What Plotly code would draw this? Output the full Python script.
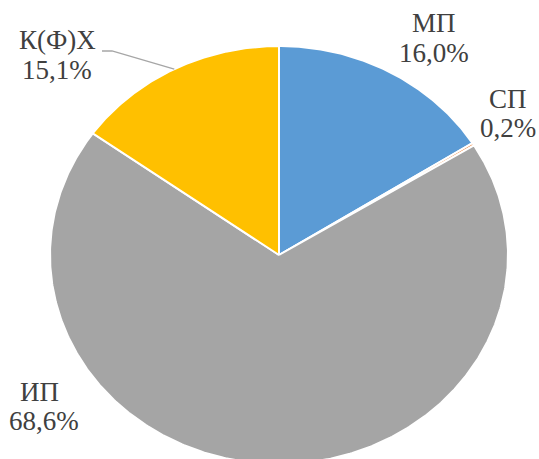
import math
import plotly.graph_objects as go

# ---- data ----
categories = ["МП", "СП", "ИП", "К(Ф)Х"]
values = [16.0, 0.2, 68.6, 15.1]
value_labels = ["16,0%", "0,2%", "68,6%", "15,1%"]
colors = ["#5B9BD5", "#ED7D31", "#A5A5A5", "#FFC000"]

# ---- layout constants ----
W, H = 539, 459
CX, CY, RX, RY = 279, 255, 229, 209
# (x, y of category line, x, y of percent line) in pixel coordinates
label_xy = {"МП": (434, 23, 434, 53), "СП": (508, 99, 508, 128),
            "ИП": (39, 392, 44, 421), "К(Ф)Х": (57, 40, 57, 70)}
leader_start = (102, 51)
leader_knee = (112, 51)
FONT = dict(family="'Times New Roman', 'Liberation Serif', 'DejaVu Serif', serif",
            size=27, color="#404040")

total = sum(values)


def pt(frac):
    a = 2 * math.pi * frac
    return CX + RX * math.sin(a), CY - RY * math.cos(a)


fig = go.Figure()
cum = 0.0
mids = {}
for cat, v, c in zip(categories, values, colors):
    f0, f1 = cum / total, (cum + v) / total
    n = max(2, int((f1 - f0) * 720))
    xs, ys = [CX], [CY]
    for i in range(n + 1):
        x, y = pt(f0 + (f1 - f0) * i / n)
        xs.append(x)
        ys.append(y)
    xs.append(CX)
    ys.append(CY)
    fig.add_trace(go.Scatter(x=xs, y=ys, fill="toself", fillcolor=c, mode="lines",
                             line=dict(color="white", width=2), name=cat,
                             hoverinfo="name"))
    mids[cat] = pt((f0 + f1) / 2)
    cum += v

# leader line for К(Ф)Х
ex, ey = mids["К(Ф)Х"]
fig.add_trace(go.Scatter(x=[leader_start[0], leader_knee[0], ex],
                         y=[leader_start[1], leader_knee[1], ey],
                         mode="lines", line=dict(color="#A6A6A6", width=1.3),
                         hoverinfo="skip"))

for cat, lab in zip(categories, value_labels):
    x1, y1, x2, y2 = label_xy[cat]
    fig.add_annotation(x=x1, y=y1, xref="x", yref="y", text=cat, showarrow=False,
                       font=FONT, xanchor="center", yanchor="middle")
    fig.add_annotation(x=x2, y=y2, xref="x", yref="y", text=lab, showarrow=False,
                       font=FONT, xanchor="center", yanchor="middle")

fig.update_layout(width=W, height=H, margin=dict(l=0, r=0, t=0, b=0),
                  paper_bgcolor="white", plot_bgcolor="white", showlegend=False,
                  xaxis=dict(range=[0, W], visible=False, fixedrange=True),
                  yaxis=dict(range=[H, 0], visible=False, fixedrange=True))

fig.write_html("out.html", config={"displayModeBar": False},
               post_script="document.body.style.margin='0';document.body.style.overflow='hidden';")
